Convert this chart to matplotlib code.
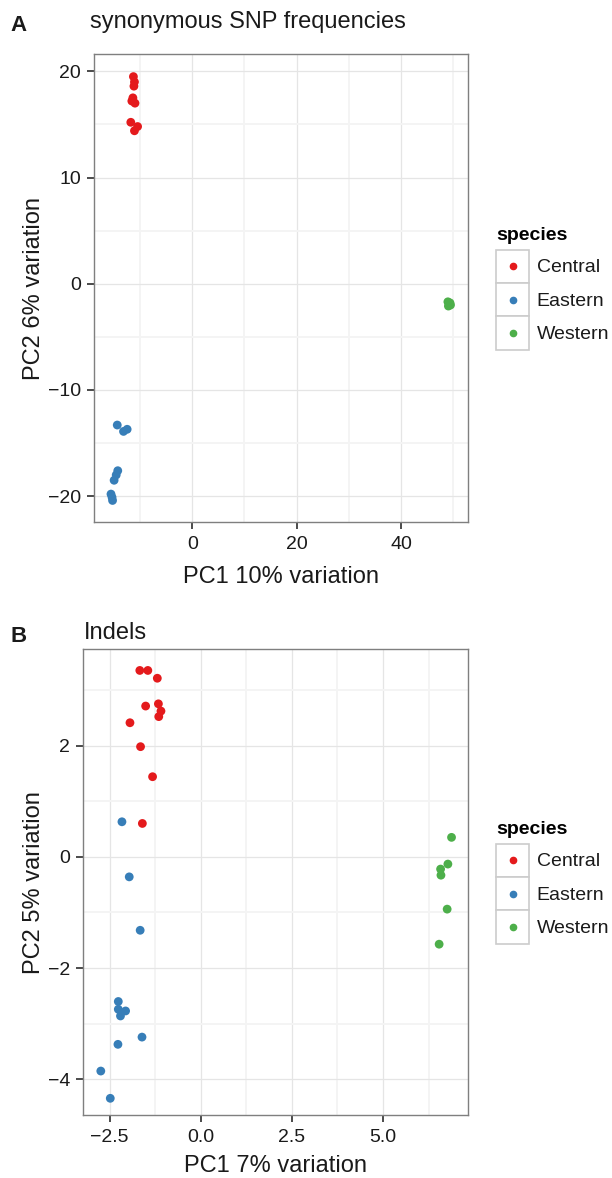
import numpy as np
import matplotlib
matplotlib.use("Agg")
import matplotlib.pyplot as plt
from matplotlib.legend_handler import HandlerBase
from matplotlib.patches import Rectangle
from matplotlib.lines import Line2D

plt.rcParams["font.family"] = ["Liberation Sans", "DejaVu Sans"]

species = ["Central", "Eastern", "Western"]
colors = {"Central": "#E41A1C", "Eastern": "#377EB8", "Western": "#4DAF4A"}

# panel A: synonymous SNP frequencies
snp_pc1 = {
    "Central": [-11.3, -11.1, -11.2, -11.4, -11.6, -11.0, -11.8, -10.5, -11.1],
    "Eastern": [-14.4, -13.2, -12.5, -14.3, -14.6, -15.0, -15.6, -15.4, -15.3],
    "Western": [49.0, 49.3, 49.5, 49.1, 49.4],
}
snp_pc2 = {
    "Central": [19.5, 19.0, 18.6, 17.5, 17.2, 17.0, 15.2, 14.8, 14.4],
    "Eastern": [-13.3, -13.9, -13.7, -17.6, -18.0, -18.5, -19.8, -20.1, -20.4],
    "Western": [-1.7, -1.9, -2.0, -2.1, -1.8],
}

# panel B: indels
indel_pc1 = {
    "Central": [-1.67, -1.45, -1.19, -1.51, -1.16, -1.09, -1.15, -1.94, -1.65, -1.32, -1.60],
    "Eastern": [-2.16, -1.96, -1.66, -2.26, -2.26, -2.06, -2.20, -1.61, -2.27, -2.74, -2.48],
    "Western": [6.88, 6.78, 6.58, 6.59, 6.76, 6.54],
}
indel_pc2 = {
    "Central": [3.35, 3.35, 3.21, 2.71, 2.75, 2.62, 2.52, 2.41, 1.98, 1.44, 0.60],
    "Eastern": [0.63, -0.36, -1.32, -2.60, -2.74, -2.77, -2.86, -3.24, -3.37, -3.85, -4.34],
    "Western": [0.35, -0.13, -0.22, -0.33, -0.94, -1.57],
}


class KeyHandler(HandlerBase):
    # ggplot style legend key: grey bordered box with a dot in the middle
    def create_artists(self, legend, orig_handle, xdescent, ydescent,
                       width, height, fontsize, trans):
        box = Rectangle((-xdescent, -ydescent), width, height, facecolor="white",
                        edgecolor="#CCCCCC", linewidth=1.2, transform=trans)
        dot = Line2D([width / 2 - xdescent], [height / 2 - ydescent], marker="o",
                     linestyle="none", markersize=4.5,
                     color=orig_handle.get_color(), transform=trans)
        return [box, dot]


def style_axes(ax, xmajor, xminor, ymajor, yminor, xlim, ylim):
    ax.set_xlim(xlim)
    ax.set_ylim(ylim)
    ax.set_xticks(xmajor)
    ax.set_xticks(xminor, minor=True)
    ax.set_yticks(ymajor)
    ax.set_yticks(yminor, minor=True)
    ax.grid(which="major", color="#E5E5E5", linewidth=0.9)
    ax.grid(which="minor", color="#F4F4F4", linewidth=1.4)
    ax.set_axisbelow(True)
    for s in ax.spines.values():
        s.set_color("#7F7F7F")
        s.set_linewidth(1.0)
    ax.tick_params(which="major", length=5, width=1.1, color="#1a1a1a",
                   labelsize=14, labelcolor="#1a1a1a")
    ax.tick_params(axis="x", which="major", pad=5)
    ax.tick_params(axis="y", which="major", pad=4.5)
    ax.tick_params(which="minor", length=0)


def draw_panel(ax, pc1, pc2):
    for sp in species:
        ax.scatter(pc1[sp], pc2[sp], s=40, color=colors[sp], edgecolors="none",
                   zorder=3, label=sp)


fig = plt.figure(figsize=(6.12, 11.78), dpi=100)

axA = fig.add_axes([94.3 / 612, 1 - 521.7 / 1178, 373.4 / 612, 467.4 / 1178])
draw_panel(axA, snp_pc1, snp_pc2)
style_axes(axA, [0, 20, 40], [-10, 10, 30, 50], [-20, -10, 0, 10, 20],
           [-15, -5, 5, 15], (-18.8, 52.8), (-22.4, 21.6))
axA.set_xlabel("PC1 10% variation", fontsize=17, labelpad=9.5, color="#1a1a1a")
axA.set_ylabel("PC2 6% variation", fontsize=17, labelpad=2, color="#1a1a1a")

axB = fig.add_axes([83.3 / 612, 1 - 1115 / 1178, 385 / 612, 465.7 / 1178])
draw_panel(axB, indel_pc1, indel_pc2)
style_axes(axB, [-2.5, 0, 2.5, 5.0], [-1.25, 1.25, 3.75, 6.25], [-4, -2, 0, 2],
           [-3, -1, 1, 3], (-3.22, 7.34), (-4.64, 3.73))
axB.set_xticklabels(["\u22122.5", "0.0", "2.5", "5.0"])
# a little tighter than panel A so the label stays inside the figure
axB.set_xlabel("PC1 7% variation", fontsize=17, labelpad=6.5, color="#1a1a1a")
axB.set_ylabel("PC2 5% variation", fontsize=17, labelpad=2, color="#1a1a1a")

fig.text(90 / 612, 1 - 28 / 1178, "synonymous SNP frequencies", fontsize=17,
         va="baseline", ha="left", color="#1a1a1a")
fig.text(10 / 612, 1 - 31 / 1178, "A", fontsize=16, fontweight="bold",
         va="baseline", ha="left", color="#1a1a1a")
fig.text(84 / 612, 1 - 639 / 1178, "Indels", fontsize=17,
         va="baseline", ha="left", color="#1a1a1a")
fig.text(10 / 612, 1 - 642 / 1178, "B", fontsize=16, fontweight="bold",
         va="baseline", ha="left", color="#1a1a1a")

for ax, top in [(axA, 227), (axB, 821)]:
    handles = [Line2D([], [], color=colors[sp]) for sp in species]
    leg = ax.legend(handles, species, loc="upper left",
                    bbox_to_anchor=(496 / 612, 1 - top / 1178),
                    bbox_transform=fig.transFigure, frameon=False,
                    title="species", alignment="left", fontsize=14,
                    title_fontproperties={"weight": "bold", "size": 14},
                    handler_map={Line2D: KeyHandler()},
                    handlelength=1.72, handleheight=2.27, labelspacing=0.0,
                    handletextpad=0.38, borderpad=0, borderaxespad=0)
    leg._legend_box.sep = 4
    for t in leg.get_texts():
        t.set_color("#1a1a1a")

fig.savefig("out.png", dpi=100)
